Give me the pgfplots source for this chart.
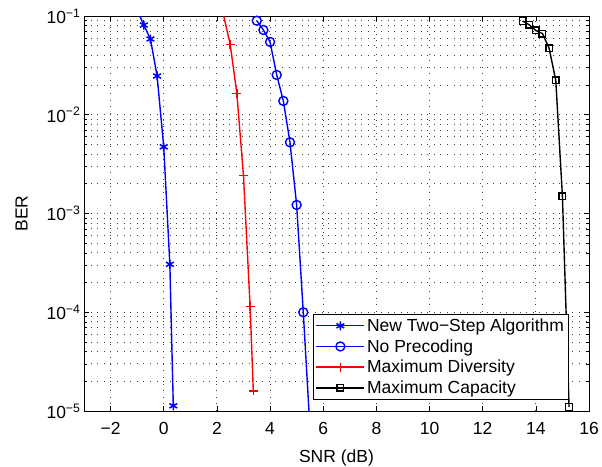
\documentclass[border=0pt]{standalone}
\usepackage{fontspec}
\setmainfont{Liberation Sans}
\usepackage{pgfplots}
\pgfplotsset{compat=1.18}
\begin{document}
\begin{tikzpicture}
\begin{axis}[
  scale only axis,
  width=505pt, height=395pt,
  at={(0,0)}, anchor=south west,
  xmin=-3, xmax=16,
  ymode=log, ymin=1e-5, ymax=1e-1,
  xtick={-2,0,2,4,6,8,10,12,14,16},
  xticklabels={−2,0,2,4,6,8,10,12,14,16},
  ytick={1e-5,1e-4,1e-3,1e-2,1e-1},
  yticklabels={10\textsuperscript{−5},10\textsuperscript{−4},10\textsuperscript{−3},10\textsuperscript{−2},10\textsuperscript{−1}},
  tick align=inside,
  major tick length=5pt, minor tick length=3pt,
  xmajorgrids, ymajorgrids, yminorgrids,
  major grid style={dash pattern=on 1pt off 5.6pt, black!75, line width=0.8pt},
  minor grid style={dash pattern=on 1pt off 5.6pt, black!75, line width=0.8pt},
  axis line style={line width=0.8pt},
  every tick/.style={black, line width=0.6pt},
  tick label style={font=\fontsize{17.5}{20}\selectfont},
  xticklabel style={yshift=-8pt},
  label style={font=\fontsize{17.5}{20}\selectfont},
  xlabel={SNR (dB)},
  xlabel style={yshift=-8pt},
  ylabel={BER},
  ylabel style={yshift=12pt},
  legend style={font=\fontsize{17.5}{20}\selectfont, at={(0.454,0.0296)}, anchor=south west,
    draw=black, line width=0.8pt, row sep=2.5pt, inner sep=2pt},
  legend cell align=left,
  legend image code/.code={\draw[mark repeat=2, mark phase=2, #1] plot coordinates {(0pt,0pt) (24pt,0pt) (48pt,0pt)};},
]
\addplot[blue, line width=1.4pt, mark=asterisk, mark size=4.5pt, mark options={line width=1.5pt}] coordinates {
  (-1.0,0.115) (-0.75,0.081) (-0.5,0.0585) (-0.25,0.0247) (0.0,0.00474) (0.23,3.06e-4) (0.36,1.13e-5)
};
\addlegendentry{New Two−Step Algorithm}
\addplot[blue, line width=1.4pt, mark=o, mark size=4.5pt, mark options={line width=1.4pt}] coordinates {
  (3.5,0.0896) (3.75,0.0722) (4.0,0.0546) (4.25,0.0253) (4.5,0.0138) (4.75,0.00526) (5.0,0.00122) (5.25,1.0e-4) (5.5,6.8e-6)
};
\addlegendentry{No Precoding}
\addplot[red, line width=1.4pt, mark=+, mark size=4.5pt, mark options={line width=1.4pt}] coordinates {
  (2.0,0.2) (2.5,0.0517) (2.75,0.0165) (3.0,0.00242) (3.25,1.14e-4) (3.37,1.6e-5)
};
\addlegendentry{Maximum Diversity}
\addplot[black, line width=1.4pt, mark=square, mark size=3.3pt, mark options={line width=1.4pt}] coordinates {
  (13.5,0.0892) (13.75,0.0815) (14.0,0.0714) (14.25,0.0663) (14.5,0.0471) (14.75,0.0223) (15.0,0.0015) (15.25,1.1e-5)
};
\addlegendentry{Maximum Capacity}
\end{axis}
\pgfresetboundingbox
\path (-84pt,-55pt) rectangle (518pt,411pt);
\end{tikzpicture}
\end{document}
